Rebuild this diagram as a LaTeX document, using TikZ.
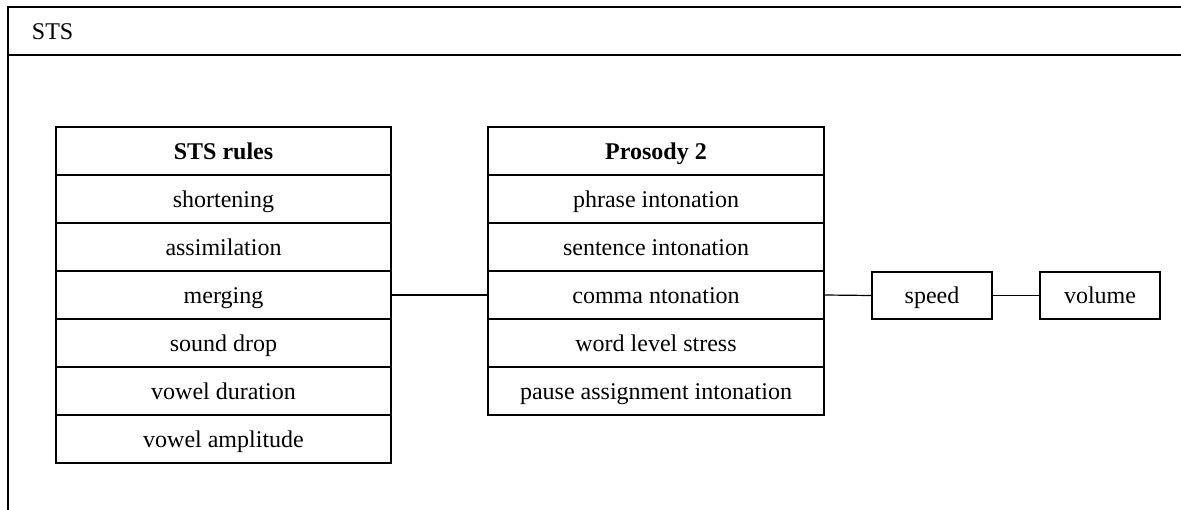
\documentclass[tikz,border=0pt]{standalone}
\usepackage{fontspec}
\setmainfont{Liberation Serif}
\begin{document}
\begin{tikzpicture}[x=1pt,y=-1pt,
  line width=1.2pt,
  txt/.style={font=\fontsize{24}{28}\selectfont, text height=16pt, text depth=0pt},
  cell/.style={draw, txt, minimum width=335pt, minimum height=48pt, inner sep=0pt},
  wcell/.style={cell, minimum width=336pt},
  head/.style={font=\fontsize{24}{28}\selectfont\bfseries},
  pbox/.style={draw, txt, minimum width=120pt, minimum height=47pt, inner sep=0pt},
  link/.style={draw, line width=1.2pt}]
\useasboundingbox (0,0) rectangle (1181,509);
\begin{scope}
\clip (0,0) rectangle (1181,509);
% outer frame with title bar
\draw (1200,7) -- (8,7) -- (8,530);
\draw (8,55) -- (1200,55);
\end{scope}
\node[anchor=base west, font=\fontsize{24}{28}\selectfont] (title) at (28,39) {STS};

% STS rules table
\node[cell, head] (sh) at (223.5,151) {STS rules};
\node[cell] (s1) at (223.5,199) {shortening};
\node[cell] (s2) at (223.5,247) {assimilation};
\node[cell] (s3) at (223.5,295) {merging};
\node[cell] (s4) at (223.5,343) {sound drop};
\node[cell] (s5) at (223.5,391) {vowel duration};
\node[cell] (s6) at (223.5,439) {vowel amplitude};

% Prosody table
\node[wcell, head] (ph) at (656,151) {Prosody 2};
\node[wcell] (p1) at (656,199) {phrase intonation};
\node[wcell] (p2) at (656,247) {sentence intonation};
\node[wcell] (p3) at (656,295) {comma ntonation};
\node[wcell] (p4) at (656,343) {word level stress};
\node[wcell] (p5) at (656,391) {pause assignment intonation};

% single boxes
\node[pbox] (speed) at (932,295.5) {speed};
\node[pbox] (volume) at (1100,295.5) {volume};

% connectors
\draw[link] (s3.east) -- (p3.west);
\draw[link] (p3.east) -- (speed.west);
\draw[link] (speed.east) -- (volume.west);
\end{tikzpicture}
\end{document}
